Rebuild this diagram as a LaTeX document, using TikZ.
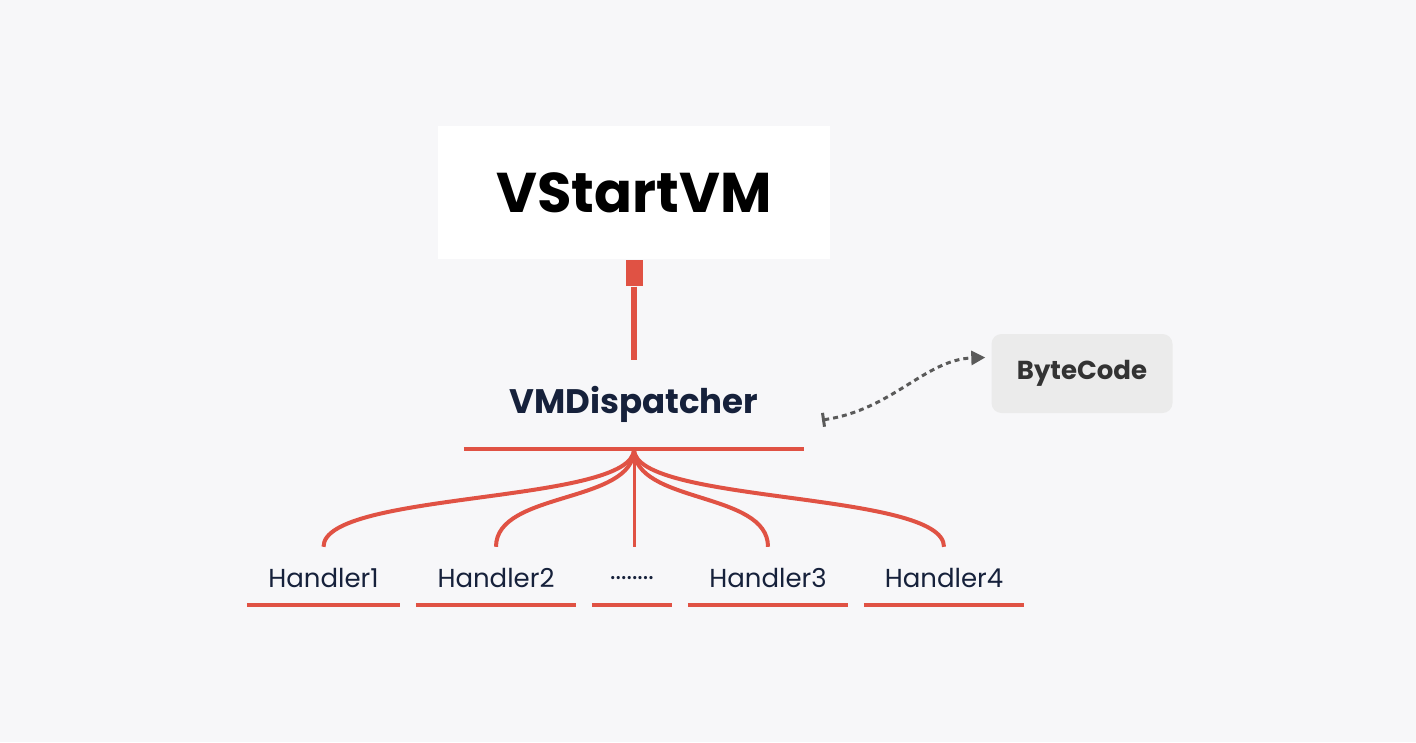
\documentclass[tikz,border=0pt]{standalone}
\usepackage{fontspec}
\setmainfont{Poppins}
\usepackage{xcolor}
\usetikzlibrary{arrows.meta,calc}

\definecolor{bgcol}{HTML}{F7F7F9}
\definecolor{wire}{HTML}{E05244}
\definecolor{navy}{HTML}{16213B}
\definecolor{tagfill}{HTML}{EBEBEB}
\definecolor{tagtext}{HTML}{333333}
\definecolor{linkgray}{HTML}{5A5A5A}

\begin{document}
\begin{tikzpicture}[
	x=1pt, y=-1pt,
	entry/.style={fill=white, minimum width=392pt, minimum height=133pt, inner sep=0pt,
		font=\fontsize{56}{56}\selectfont\bfseries},
	hub/.style={minimum width=340pt, minimum height=90pt, inner sep=0pt, text=navy,
		font=\fontsize{34}{34}\selectfont\bfseries},
	handler/.style={minimum height=54pt, inner sep=0pt, text=navy,
		font=\fontsize{26}{26}\selectfont},
	tag/.style={fill=tagfill, rounded corners=10pt, minimum width=181pt, minimum height=79pt,
		inner sep=0pt, text=tagtext, font=\fontsize{26}{26}\selectfont\bfseries},
	underline/.style={draw=wire, line width=3.5pt},
	branch/.style={draw=wire, line width=4pt},
	link/.style={draw=linkgray, line width=3pt, dash pattern=on 5pt off 4pt,
		{Bar[width=14pt,line width=3pt]}-{Triangle[length=14pt,width=14pt]}}
]
% canvas
\fill[bgcol] (0,0) rectangle (1416,742);

% top block and its plug
\node[entry] (vstart) at (634,192.5) {VStartVM};
\node[fill=wire, minimum width=17pt, minimum height=26pt, inner sep=0pt, anchor=north]
	(plug) at ($(vstart.south)+(0,1)$) {};
\node[hub] (disp) at (634,404) {VMDispatcher};
\draw[wire, line width=6pt] (plug.south) -- ($(disp.north)+(0,1)$);
\draw[underline] (disp.south west) -- (disp.south east);

% byte code store
\node[tag] (bytes) at (1082,373.5) {ByteCode};
\coordinate (linkfrom) at (822,420);
\draw[link] (linkfrom) .. controls +(70,-10) and +(-60,2) .. ($(bytes.west)+(-6,-16)$);

% handlers
\node[handler, minimum width=153pt] (h1) at (323.5,578) {Handler1};
\node[handler, minimum width=160pt] (h2) at (496,578) {Handler2};
\node[handler, minimum width=80pt] (hdots) at (632,578) {........};
\node[handler, minimum width=160pt] (h3) at (768,578) {Handler3};
\node[handler, minimum width=160pt] (h4) at (944,578) {Handler4};

\foreach \h in {h1,h2,hdots,h3,h4}
	\draw[underline] (\h.south west) -- (\h.south east);

\foreach \h in {h1,h2,h3,h4}
	\draw[branch, shorten >=4pt] (disp.south) .. controls +(0,55) and +(0,-60) .. (\h.north);
\draw[draw=wire, line width=3pt, shorten >=4pt] (disp.south) -- (disp.south |- hdots.north);
\end{tikzpicture}
\end{document}
